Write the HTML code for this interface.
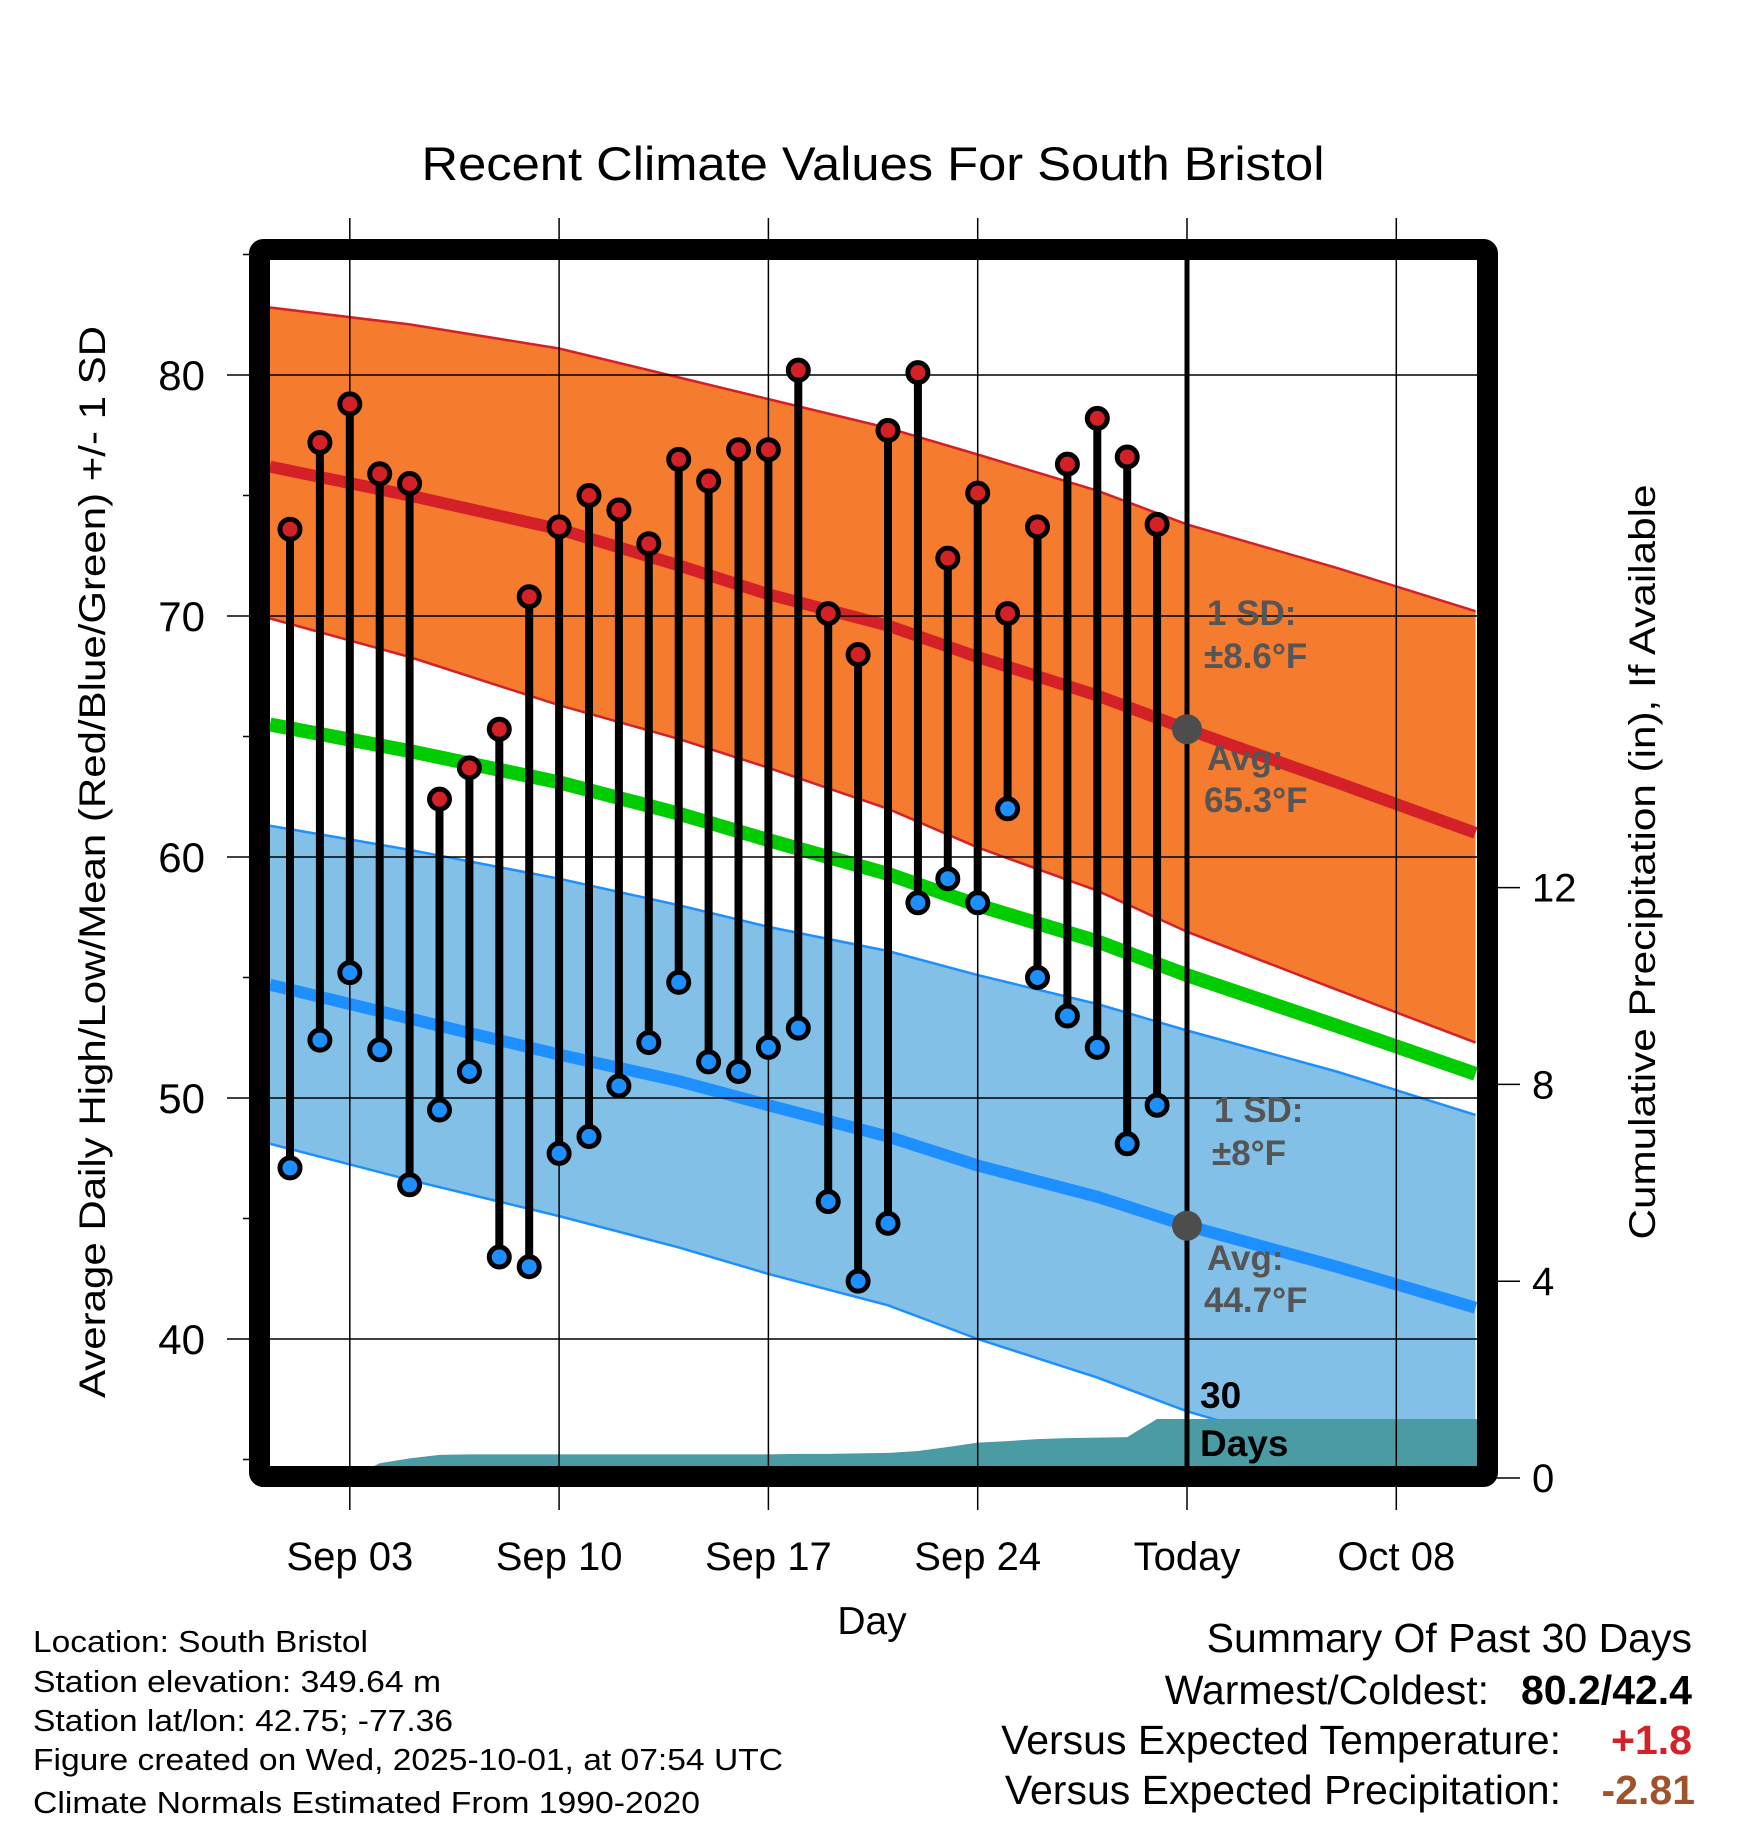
<!DOCTYPE html>
<html><head><meta charset="utf-8"><style>
html,body{margin:0;padding:0;background:#fff;}
svg{display:block;font-family:"Liberation Sans",Arial,sans-serif;}
</style></head><body>
<svg id="chart" width="1748" height="1828" viewBox="0 0 1748 1828" xmlns="http://www.w3.org/2000/svg">
<defs><clipPath id="plotclip"><rect x="270" y="260" width="1208" height="1207"/></clipPath></defs>
<text x="873" y="180" font-size="47" text-anchor="middle" textLength="903" lengthAdjust="spacingAndGlyphs">Recent Climate Values For South Bristol</text>
<g id="plot" clip-path="url(#plotclip)"></g>
<g id="grid"></g>
<g id="marks"></g>
<g id="frame"></g>
<g id="labels"></g>
<text transform="translate(105,862) rotate(-90)" font-size="37" text-anchor="middle" textLength="1072" lengthAdjust="spacingAndGlyphs">Average Daily High/Low/Mean (Red/Blue/Green) +/- 1 SD</text>
<text transform="translate(1655,862) rotate(-90)" font-size="37" text-anchor="middle" textLength="755" lengthAdjust="spacingAndGlyphs">Cumulative Precipitation (in), If Available</text>
<text x="872" y="1634" font-size="39" text-anchor="middle">Day</text>
<g font-size="31">
<text x="33" y="1652" textLength="335" lengthAdjust="spacingAndGlyphs">Location: South Bristol</text>
<text x="33" y="1692" textLength="408" lengthAdjust="spacingAndGlyphs">Station elevation: 349.64 m</text>
<text x="33" y="1731" textLength="420" lengthAdjust="spacingAndGlyphs">Station lat/lon: 42.75; -77.36</text>
<text x="33" y="1770" textLength="750" lengthAdjust="spacingAndGlyphs">Figure created on Wed, 2025-10-01, at 07:54 UTC</text>
<text x="33" y="1813" textLength="667" lengthAdjust="spacingAndGlyphs">Climate Normals Estimated From 1990-2020</text>
</g>
<g font-size="41" text-anchor="end">
<text x="1692" y="1652">Summary Of Past 30 Days</text>
<text x="1489" y="1704">Warmest/Coldest:</text>
<text x="1692" y="1704" font-weight="bold">80.2/42.4</text>
<text x="1561" y="1754">Versus Expected Temperature:</text>
<text x="1692" y="1754" font-weight="bold" fill="#d42027">+1.8</text>
<text x="1561" y="1804">Versus Expected Precipitation:</text>
<text x="1695" y="1804" font-weight="bold" fill="#a0522d">-2.81</text>
</g>
</svg>
<script>
// daily observations, Sep 1 .. Sep 30 (day index 0..29)
const highs=[73.6,77.2,78.8,75.9,75.5,62.4,63.7,65.3,70.8,73.7,75.0,74.4,73.0,76.5,75.6,76.9,76.9,80.2,70.1,68.4,77.7,80.1,72.4,75.1,70.1,73.7,76.3,78.2,76.6,73.8];
const lows=[47.1,52.4,55.2,52.0,46.4,49.5,51.1,43.4,43.0,47.7,48.4,50.5,52.3,54.8,51.5,51.1,52.1,52.9,45.7,42.4,44.8,58.1,59.1,58.1,62.0,55.0,53.4,52.1,48.1,49.7];
// normals at day offsets
const normDays=[-0.67,4,9,13,16,20,23,27,30,35,39.65];
const hiAvg=[76.2,75.0,73.6,72.1,70.9,69.6,68.3,66.7,65.3,63.1,61.0];
const hiUpper=[82.8,82.1,81.1,79.9,79.0,77.8,76.7,75.2,73.8,72.0,70.2];
const hiLower=[69.9,68.3,66.3,64.9,63.7,62.0,60.4,58.6,56.9,54.5,52.3];
const meanAvg=[65.5,64.4,63.1,61.8,60.7,59.3,58.0,56.5,55.1,53.0,51.0];
const loAvg=[54.7,53.3,51.8,50.7,49.7,48.4,47.2,45.9,44.7,43.0,41.3];
const loUpper=[61.3,60.3,59.1,58.0,57.1,56.1,55.1,53.9,52.8,51.1,49.3];
const loLower=[48.1,46.6,45.1,43.8,42.7,41.4,40.0,38.4,37.0,35.2,33.5];
// cumulative precipitation (in), day 0..30
const precip=[0,0,0,0.3,0.4,0.47,0.48,0.48,0.48,0.48,0.48,0.48,0.48,0.48,0.48,0.48,0.48,0.49,0.49,0.5,0.51,0.55,0.63,0.72,0.75,0.79,0.81,0.82,0.83,1.2,1.2];
const yTicks=[40,50,60,70,80];
const yMinor=[35,45,55,65,75,85];
const y2Ticks=[0,4,8,12];
const xTickDays=[2,9,16,23,30,37];
const xTickLabels=["Sep 03","Sep 10","Sep 17","Sep 24","Today","Oct 08"];
const todayDay=30;
const todayHi=65.3, todayLo=44.7;

const NS="http://www.w3.org/2000/svg";
const X=d=>290+d*29.9;
const Y=v=>375+(80-v)*24.1;
const Y2=p=>1478-p*49.2;
function mk(tag,attrs,parent){const e=document.createElementNS(NS,tag);for(const k in attrs)e.setAttribute(k,attrs[k]);parent.appendChild(e);return e;}
const plot=document.getElementById('plot'),grid=document.getElementById('grid'),marks=document.getElementById('marks'),frame=document.getElementById('frame'),labels=document.getElementById('labels');
const pts=arr=>normDays.map((d,i)=>X(d).toFixed(1)+','+Y(arr[i]).toFixed(1));
function band(up,lo,fill,stroke,name){
  const p=pts(up).concat(pts(lo).reverse()).join(' ');
  const e=mk('polygon',{points:p,fill:fill},plot);
  
  
  [up,lo].forEach(a=>{const l=mk('polyline',{points:pts(a).join(' '),fill:'none',stroke:stroke,'stroke-width':2.5},plot);
    
    });
}
band(hiUpper,hiLower,'#f57b2e','#d42027','high-sd-band');
band(loUpper,loLower,'#82c0e8','#1e8fff','low-sd-band');
function line(arr,color,w,name){const l=mk('polyline',{points:pts(arr).join(' '),fill:'none',stroke:color,'stroke-width':w},plot);
  
  }
line(hiAvg,'#d42027',12,'high-average-line');
line(meanAvg,'#00cc00',14,'mean-average-line');
line(loAvg,'#1e8fff',12,'low-average-line');
// precip area
let pp=[X(0)+','+Y2(0)];
precip.forEach((p,i)=>pp.push(X(i)+','+Y2(p)));
pp.push('1478,'+Y2(precip[precip.length-1]));pp.push('1478,'+Y2(0));
const pa=mk('polygon',{points:pp.join(' '),fill:'#4a9ba3'},plot);


// grid
yTicks.forEach(v=>{const g=mk('line',{x1:227,x2:1478,y1:Y(v),y2:Y(v),stroke:'#000','stroke-width':1.5},grid);
  
  
  const t=mk('text',{x:205,y:Y(v)+15,'font-size':42,'text-anchor':'end'},labels);t.textContent=v;
  
  });
yMinor.forEach(v=>{const g=mk('line',{x1:243,x2:260,y1:Y(v),y2:Y(v),stroke:'#000','stroke-width':1.5},grid);
  
  });
xTickDays.forEach((d,i)=>{const g=mk('line',{x1:X(d),x2:X(d),y1:218,y2:1510,stroke:'#000','stroke-width':1.5},grid);
  
  
  const t=mk('text',{x:X(d),y:1570,'font-size':40,'text-anchor':'middle'},labels);t.textContent=xTickLabels[i];
  
  });
y2Ticks.forEach(v=>{const g=mk('line',{x1:1488,x2:1520,y1:Y2(v),y2:Y2(v),stroke:'#000','stroke-width':1.5},grid);
  
  
  const t=mk('text',{x:1532,y:Y2(v)+14,'font-size':40},labels);t.textContent=v;
  
  });
// today line
const tl=mk('line',{x1:X(todayDay),x2:X(todayDay),y1:255,y2:1470,stroke:'#000','stroke-width':5},marks);


// observations
highs.forEach((h,i)=>{
  const s=mk('line',{x1:X(i),x2:X(i),y1:Y(h),y2:Y(lows[i]),stroke:'#000','stroke-width':8},marks);
  
  
});
highs.forEach((h,i)=>{
  const a=mk('circle',{cx:X(i),cy:Y(h),r:10,fill:'#d42027',stroke:'#000','stroke-width':5},marks);
  
  
  const b=mk('circle',{cx:X(i),cy:Y(lows[i]),r:10,fill:'#1e8fff',stroke:'#000','stroke-width':5},marks);
  
  
});
[todayHi,todayLo].forEach(v=>{const c=mk('circle',{cx:X(todayDay),cy:Y(v),r:15,fill:'#4d4d4d'},marks);
  
  });
// annotations
const ann=[["1 SD:",1207,625],["±8.6°F",1204,668],["Avg:",1207,770],["65.3°F",1204,812],["1 SD:",1214,1122],["±8°F",1212,1165],["Avg:",1207,1270],["44.7°F",1204,1312]];
ann.forEach(a=>{const t=mk('text',{x:a[1],y:a[2],'font-size':35,'font-weight':'bold',fill:'#555'},labels);t.textContent=a[0];
  
  });
[["30",1200,1408],["Days",1200,1456]].forEach(a=>{const t=mk('text',{x:a[1],y:a[2],'font-size':37,'font-weight':'bold',fill:'#000'},labels);t.textContent=a[0];
  
  });
// frame
const fr=mk('rect',{x:259.5,y:249.5,width:1228,height:1227,fill:'none',stroke:'#000','stroke-width':21,rx:4},frame);


</script>
</body></html>
